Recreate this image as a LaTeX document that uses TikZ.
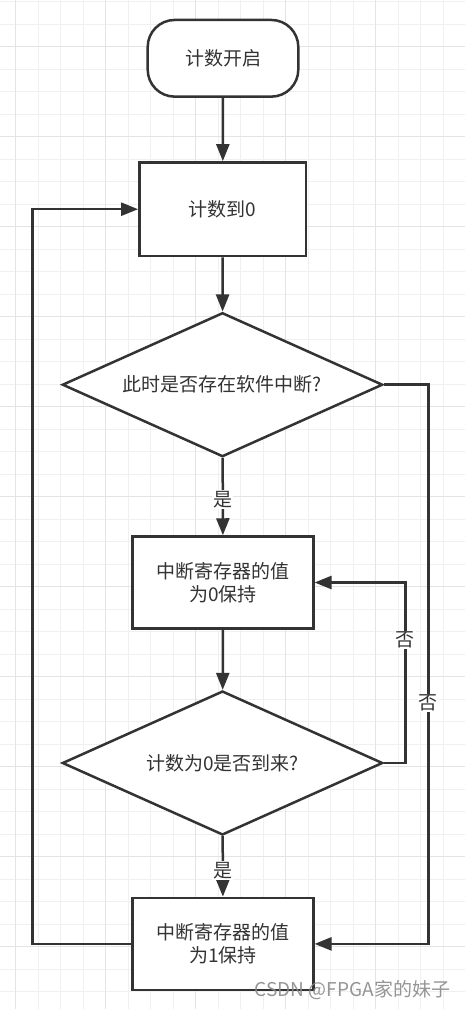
\documentclass[tikz,border=0pt]{standalone}
\usepackage{fontspec}
\newfontfamily\cjk{Noto Sans CJK SC}
\usetikzlibrary{shapes.geometric,arrows.meta}
\definecolor{ink}{HTML}{333333}
\definecolor{gridminor}{HTML}{F0F0F0}
\definecolor{gridmajor}{HTML}{E4E4E4}
\definecolor{wm}{HTML}{8A8A8A}
\tikzset{
  base/.style={draw=ink, line width=2.5pt, text=ink, font=\cjk\fontsize{19}{23.3}\selectfont, inner sep=0pt, align=center, fill=white},
  term/.style={base, rectangle, rounded corners=27pt, minimum width=150.6pt, minimum height=76.7pt},
  procbox/.style={base, rectangle, minimum width=180.6pt, minimum height=92pt},
  decide/.style={base, diamond, aspect=2.225, minimum width=320.4pt, minimum height=144pt},
  conn/.style={draw=ink, line width=2.5pt, -{Triangle[length=17pt,width=13pt]}},
  lab/.style={fill=white, text=ink, font=\cjk\fontsize{19}{23}\selectfont, inner sep=1pt}
}
\begin{document}
\begin{tikzpicture}[x=1pt,y=-1pt]
\useasboundingbox (0,0) rectangle (465,1009);
\fill[white] (0,0) rectangle (465,1009);
% grid
\foreach \k in {0,...,20} {
  \draw[gridminor, line width=1pt] ({15.7+22.5*\k},0) -- ({15.7+22.5*\k},1009);
}
\foreach \k in {0,...,44} {
  \draw[gridminor, line width=1pt] (0,{1.7+22.5*\k}) -- (465,{1.7+22.5*\k});
}
\foreach \k in {0,...,5} {
  \draw[gridmajor, line width=1.2pt] ({15.7+90*\k},0) -- ({15.7+90*\k},1009);
}
\foreach \k in {0,...,11} {
  \draw[gridmajor, line width=1.2pt] (0,{46.7+90*\k}) -- (465,{46.7+90*\k});
}
% nodes
\node[term] (start) at (223,58.3) {计数开启};
\node[procbox, minimum width=166.7pt, minimum height=93.7pt] (b1) at (222.7,209.2) {计数到0};
\node[decide] (d1) at (222.5,384.7) {此时是否存在软件中断?};
\node[procbox] (b2) at (223,582.5) {中断寄存器的值\\为0保持};
\node[decide] (d2) at (222.5,763) {计数为0是否到来?};
\node[procbox] (b3) at (223,943.9) {中断寄存器的值\\为1保持};
\coordinate (lx) at (32.3,0);
\coordinate (rx) at (428.3,0);
\coordinate (mx) at (405.3,0);
% connectors
\draw[conn] (start) -- (b1);
\draw[conn] (b1) -- (d1);
\draw[conn] (d1) -- node[lab,pos=0.54]{是} (b2);
\draw[conn] (b2) -- (d2);
\draw[conn] (d2) -- node[lab,pos=0.565]{是} (b3);
\draw[conn] (b3.west) -- (b3.west -| lx) -- (b1.west -| lx) -- (b1.west);
\draw[conn] (d1.east) -- (d1.east -| rx) -- node[lab,pos=0.569]{否} (b3.east -| rx) -- (b3.east);
\draw[conn] (d2.east) -- (d2.east -| mx) -- node[lab,pos=0.68]{否} (b2.east -| mx) -- (b2.east);
% watermark
\node[text=wm, font=\cjk\fontsize{19}{23}\selectfont, inner sep=0pt, opacity=0.9] (wmk) at (352.5,990.5) {CSDN @FPGA家的妹子};
\end{tikzpicture}
\end{document}
